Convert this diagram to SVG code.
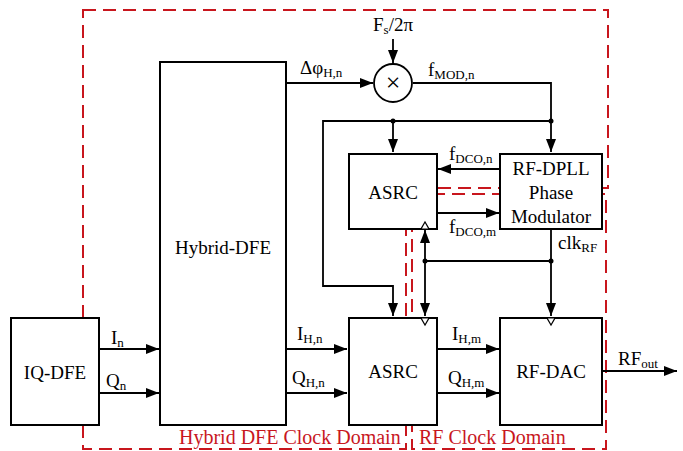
<svg xmlns="http://www.w3.org/2000/svg" width="683" height="451" viewBox="0 0 683 451">
<defs>
<style>
text{font-family:"Liberation Serif","DejaVu Serif","Times New Roman",serif;font-size:19px;fill:#000}
.sub{font-size:13px}
.box{fill:#fff;stroke:#000;stroke-width:2}
.ln{fill:none;stroke:#000;stroke-width:1.8}
.dom{fill:none;stroke:#c8161d;stroke-width:2;stroke-dasharray:13 7}
.dl{fill:#c8161d;font-size:20px}
.clk{fill:#fff;stroke:#000;stroke-width:1.2}
.dot{fill:#000}
.c{text-anchor:middle}
</style>
<marker id="ah" markerUnits="userSpaceOnUse" markerWidth="14" markerHeight="11" refX="13" refY="5" orient="auto-start-reverse" viewBox="0 0 14 11">
<path d="M0,0 L13,5 L0,10 z" fill="#000"/>
</marker>
</defs>
<g id="domains">
<path class="dom" d="M83,10 H608 V188 H406 V449 H83 Z"/>
<path class="dom" d="M412,194 H606 V449 H412 Z"/>
<text class="dl" x="179" y="444">Hybrid DFE Clock Domain</text>
<text class="dl" x="419" y="444">RF Clock Domain</text>
</g>
<g id="connectors">
<path class="ln" d="M393,39 V63" marker-end="url(#ah)"/>
<path class="ln" d="M286,83 H373" marker-end="url(#ah)"/>
<path class="ln" d="M413,83 H551 V152" marker-end="url(#ah)"/>
<path class="ln" d="M551,121 H323 V286 H393 V316" marker-end="url(#ah)"/>
<path class="ln" d="M393,121 V152" marker-end="url(#ah)"/>
<path class="ln" d="M500,169 H438" marker-end="url(#ah)"/>
<path class="ln" d="M437,213 H499" marker-end="url(#ah)"/>
<path class="ln" d="M551,229 V316" marker-end="url(#ah)"/>
<path class="ln" d="M425,230 V316" marker-start="url(#ah)" marker-end="url(#ah)"/>
<path class="ln" d="M425,261 H551"/>
<path class="ln" d="M99,349 H159" marker-end="url(#ah)"/>
<path class="ln" d="M99,393 H159" marker-end="url(#ah)"/>
<path class="ln" d="M286,349 H347" marker-end="url(#ah)"/>
<path class="ln" d="M286,393 H347" marker-end="url(#ah)"/>
<path class="ln" d="M437,349 H499" marker-end="url(#ah)"/>
<path class="ln" d="M437,393 H499" marker-end="url(#ah)"/>
<path class="ln" d="M602,371 H677" marker-end="url(#ah)"/>
<circle class="dot" cx="551" cy="121" r="2.5"/>
<circle class="dot" cx="393" cy="121" r="2.5"/>
<circle class="dot" cx="551" cy="261" r="2.5"/>
<circle class="dot" cx="425" cy="261" r="2.5"/>
<text x="373" y="31">F<tspan class="sub" dy="3">s</tspan><tspan dy="-3">/2π</tspan></text>
<text x="300" y="74">Δφ<tspan class="sub" dy="3">H,n</tspan></text>
<text x="428" y="76">f<tspan class="sub" dy="3">MOD,n</tspan></text>
<text x="449" y="160">f<tspan class="sub" dy="3">DCO,n</tspan></text>
<text x="449" y="233">f<tspan class="sub" dy="3">DCO,m</tspan></text>
<text x="558" y="249">clk<tspan class="sub" dy="3">RF</tspan></text>
<text x="111" y="344">I<tspan class="sub" dy="3">n</tspan></text>
<text x="106" y="387">Q<tspan class="sub" dy="3">n</tspan></text>
<text x="297" y="340">I<tspan class="sub" dy="3">H,n</tspan></text>
<text x="292" y="384">Q<tspan class="sub" dy="3">H,n</tspan></text>
<text x="452" y="340">I<tspan class="sub" dy="3">H,m</tspan></text>
<text x="448" y="384">Q<tspan class="sub" dy="3">H,m</tspan></text>
<text x="618" y="365">RF<tspan class="sub" dy="3">out</tspan></text>
</g>
<g id="mult">
<circle cx="393" cy="83" r="19" fill="#fff" stroke="#000" stroke-width="1.8"/>
<text class="c" x="393" y="91" style="font-size:26px">×</text>
</g>
<g id="iq-dfe">
<rect class="box" x="11" y="318" width="88" height="107"/>
<text class="c" x="55" y="379">IQ-DFE</text>
</g>
<g id="hybrid-dfe">
<rect class="box" x="160" y="62" width="126" height="363"/>
<text class="c" x="223" y="254">Hybrid-DFE</text>
</g>
<g id="asrc-top">
<rect class="box" x="349" y="154" width="88" height="75"/>
<text class="c" x="393" y="199">ASRC</text>
<polygon class="clk" points="421,229 429,229 425,222"/>
</g>
<g id="rf-dpll">
<rect class="box" x="500" y="154" width="102" height="75"/>
<text class="c" x="551" y="175">RF-DPLL</text>
<text class="c" x="551" y="199">Phase</text>
<text class="c" x="551" y="223">Modulator</text>
</g>
<g id="asrc-bottom">
<rect class="box" x="349" y="318" width="88" height="107"/>
<text class="c" x="393" y="378">ASRC</text>
<polygon class="clk" points="421,318 429,318 425,325"/>
</g>
<g id="rf-dac">
<rect class="box" x="500" y="318" width="102" height="107"/>
<text class="c" x="551" y="378">RF-DAC</text>
<polygon class="clk" points="547,318 555,318 551,325"/>
</g>
</svg>
